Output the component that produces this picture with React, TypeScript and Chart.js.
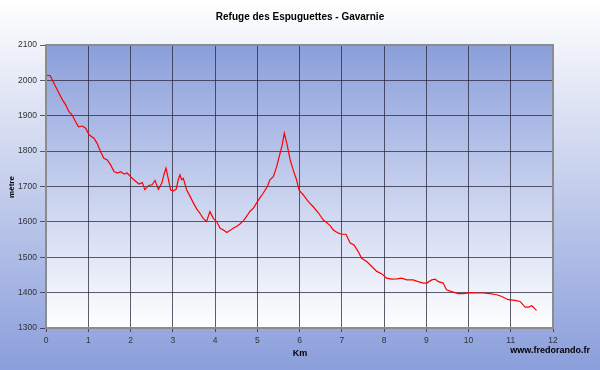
import React, { useEffect, useRef } from "react";
import { Chart, registerables } from "chart.js";

Chart.register(...registerables);

const TITLE = "Refuge des Espuguettes - Gavarnie";
const X_LABEL = "Km";
const Y_LABEL = "mètre";
const CREDIT = "www.fredorando.fr";

const distanceKm = [
  0.0, 0.1, 0.15, 0.23, 0.31, 0.39, 0.47, 0.54, 0.62, 0.7, 0.77, 0.86, 0.94, 1.02, 1.14, 1.21, 1.29, 1.37,
  1.45, 1.53, 1.61, 1.69, 1.77, 1.85, 1.92, 2.0, 2.08, 2.2, 2.28, 2.34, 2.43, 2.51, 2.58, 2.66, 2.74, 2.79,
  2.84, 2.9, 2.95, 3.01, 3.08, 3.13, 3.17, 3.21, 3.25, 3.33, 3.41, 3.49, 3.57, 3.64, 3.72, 3.8, 3.88, 3.96,
  4.04, 4.12, 4.2, 4.28, 4.36, 4.43, 4.51, 4.59, 4.67, 4.75, 4.83, 4.91, 5.03, 5.14, 5.24, 5.3, 5.38, 5.46,
  5.54, 5.59, 5.64, 5.7, 5.78, 5.85, 5.93, 5.99, 6.09, 6.21, 6.33, 6.45, 6.56, 6.72, 6.8, 6.92, 7.0, 7.1,
  7.2, 7.29, 7.39, 7.47, 7.59, 7.71, 7.83, 7.95, 8.06, 8.18, 8.3, 8.42, 8.54, 8.69, 8.81, 8.93, 9.01, 9.13,
  9.21, 9.29, 9.4, 9.48, 9.6, 9.76, 9.88, 10.04, 10.19, 10.35, 10.51, 10.67, 10.79, 10.94, 11.1, 11.22,
  11.34, 11.42, 11.5, 11.61,
];

const elevationM = [
  2015, 2013, 2001, 1982, 1963, 1945, 1930, 1912, 1902, 1883, 1869, 1871, 1865, 1846, 1836, 1822, 1799, 1780,
  1775, 1761, 1742, 1738, 1742, 1735, 1738, 1728, 1719, 1707, 1711, 1691, 1703, 1705, 1717, 1692, 1709, 1733,
  1752, 1719, 1690, 1688, 1692, 1719, 1733, 1719, 1723, 1690, 1672, 1653, 1636, 1625, 1610, 1601, 1629, 1610,
  1601, 1582, 1577, 1570, 1576, 1582, 1587, 1594, 1603, 1616, 1630, 1639, 1662, 1681, 1700, 1719, 1728, 1756,
  1794, 1817, 1851, 1822, 1775, 1747, 1719, 1690, 1676, 1657, 1642, 1625, 1606, 1590, 1577, 1568, 1565, 1565,
  1540, 1535, 1516, 1497, 1488, 1474, 1460, 1453, 1441, 1438, 1439, 1441, 1436, 1436, 1431, 1427, 1427, 1436,
  1438, 1431, 1427, 1408, 1403, 1397, 1397, 1400, 1399, 1399, 1397, 1394, 1389, 1380, 1378, 1375,
  1359, 1359, 1363, 1350,
];

const X_MIN = 0;
const X_MAX = 12;
const Y_MIN = 1300;
const Y_MAX = 2100;

const FONT = "'Liberation Sans', Arial, sans-serif";

const decorPlugin = {
  id: "decor",
  beforeDraw(chart: any) {
    const { ctx, chartArea, width, height } = chart;
    ctx.save();
    const bg = ctx.createLinearGradient(0, 0, 0, height);
    bg.addColorStop(0, "#ffffff");
    bg.addColorStop(1, "#8a9edb");
    ctx.fillStyle = bg;
    ctx.fillRect(0, 0, width, height);
    const pg = ctx.createLinearGradient(0, chartArea.top, 0, chartArea.bottom);
    pg.addColorStop(0, "#8a9edb");
    pg.addColorStop(1, "#ffffff");
    ctx.fillStyle = pg;
    ctx.fillRect(chartArea.left, chartArea.top, chartArea.right - chartArea.left, chartArea.bottom - chartArea.top);
    ctx.restore();
  },
  afterDraw(chart: any) {
    const { ctx, chartArea } = chart;
    ctx.save();
    ctx.strokeStyle = "#8c8c8c";
    ctx.lineWidth = 2;
    ctx.strokeRect(chartArea.left, chartArea.top, chartArea.right - chartArea.left, chartArea.bottom - chartArea.top);
    ctx.fillStyle = "#000000";
    ctx.textAlign = "center";
    ctx.textBaseline = "middle";
    ctx.font = `bold 10px ${FONT}`;
    ctx.fillText(TITLE, 300, 17);
    ctx.font = `bold 9px ${FONT}`;
    ctx.fillText(X_LABEL, 300, 354);
    ctx.textAlign = "right";
    ctx.font = `bold 9px ${FONT}`;
    ctx.fillText(CREDIT, 590, 351);
    ctx.translate(12, 187);
    ctx.rotate(-Math.PI / 2);
    ctx.textAlign = "center";
    ctx.font = `bold 8px ${FONT}`;
    ctx.fillText(Y_LABEL, 0, 0);
    ctx.restore();
  },
};

export default function App() {
  const ref = useRef<HTMLCanvasElement>(null);
  useEffect(() => {
    document.body.style.margin = "0";
    const points = distanceKm.map((x, i) => ({ x, y: elevationM[i] }));
    const chart = new Chart(ref.current!, {
      type: "line",
      data: {
        datasets: [
          {
            data: points,
            borderColor: "#ff0000",
            borderWidth: 1.2,
            pointRadius: 0,
            tension: 0,
            fill: false,
          },
        ],
      },
      options: {
        animation: false,
        responsive: false,
        maintainAspectRatio: false,
        layout: { padding: { top: 45, right: 47, left: 0, bottom: 0 } },
        plugins: { legend: { display: false }, tooltip: { enabled: false }, title: { display: false } },
        scales: {
          x: {
            type: "linear",
            min: X_MIN,
            max: X_MAX,
            ticks: {
              stepSize: 1,
              color: "#333",
              font: { family: FONT, size: 8.5 },
              padding: 4,
              maxRotation: 0,
              callback: (v: any) => String(v),
            },
            grid: { color: "rgba(40,40,60,0.75)", lineWidth: 1, tickLength: 4, drawTicks: true },
            border: { display: false },
            afterFit: (s: any) => {
              s.height = 42;
            },
          },
          y: {
            min: Y_MIN,
            max: Y_MAX,
            ticks: {
              stepSize: 100,
              color: "#333",
              font: { family: FONT, size: 8.5 },
              padding: 3,
              callback: (v: any) => String(v),
            },
            grid: { color: "rgba(40,40,60,0.75)", lineWidth: 1, tickLength: 6, drawTicks: true },
            border: { display: false },
            afterFit: (s: any) => {
              s.width = 46;
            },
          },
        },
      },
      plugins: [decorPlugin],
    });
    return () => chart.destroy();
  }, []);
  return (
    <div style={{ width: 600, height: 370 }}>
      <canvas ref={ref} width={600} height={370} style={{ display: "block" }} />
    </div>
  );
}
